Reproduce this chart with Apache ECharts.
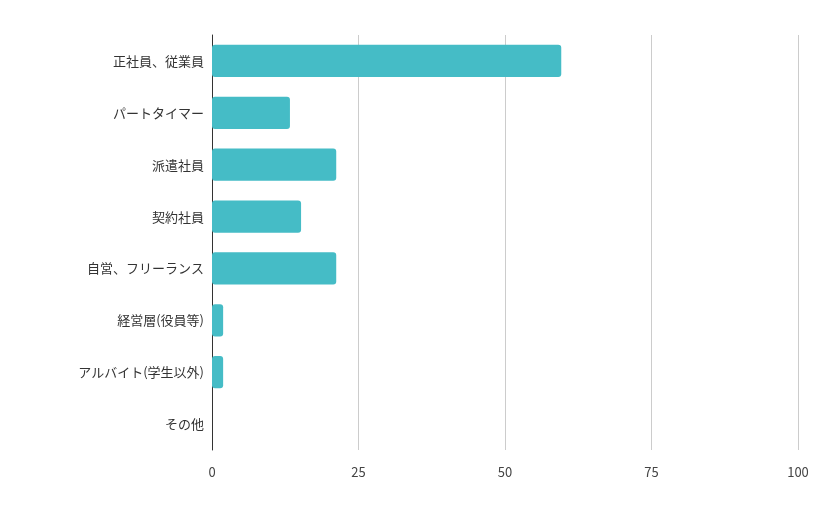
<!DOCTYPE html>
<html><head><meta charset="utf-8">
<script src="https://cdn.jsdelivr.net/npm/echarts@6/dist/echarts.min.js"></script>
<style>html,body{margin:0;background:#fff}#c{width:825px;height:510px}</style>
</head><body><div id="c"></div>
<script>
var categories = ['正社員、従業員', 'パートタイマー', '派遣社員', '契約社員', '自営、フリーランス', '経営層(役員等)', 'アルバイト(学生以外)', 'その他'];
var values = [59.6, 13.3, 21.2, 15.2, 21.2, 1.9, 1.9, 0];
var ticks = [0, 25, 50, 75, 100];

var chart = echarts.init(document.getElementById('c'));
chart.setOption({
    animation: false,
    grid: { left: 212, right: 27, top: 35, bottom: 60 },
    xAxis: {
        type: 'value', min: 0, max: 100, interval: 25,
        axisLabel: { color: '#444', fontSize: 13, margin: 16, fontFamily: 'Noto Sans CJK JP' },
        splitLine: { lineStyle: { color: '#ccc', width: 1 } },
        axisLine: { show: false }, axisTick: { show: false }
    },
    yAxis: {
        type: 'category', data: categories, inverse: true,
        axisLine: { lineStyle: { color: '#333' } }, axisTick: { show: false },
        axisLabel: { color: '#333', fontSize: 13, margin: 8, fontFamily: 'Noto Sans CJK JP' }
    },
    series: [{
        type: 'bar', data: values, barCategoryGap: '38%',
        itemStyle: { color: '#45bcc6', borderRadius: 3 }
    }]
});
</script></body></html>
